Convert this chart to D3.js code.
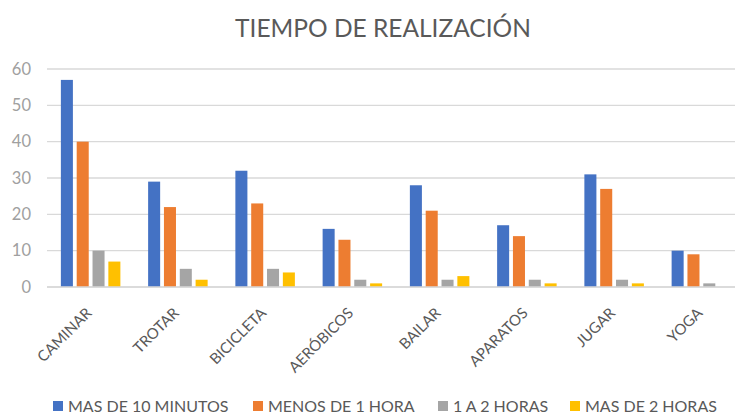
<!DOCTYPE html>
<html>
<head>
<meta charset="utf-8">
<script src="https://cdn.jsdelivr.net/npm/d3@7"></script>
<style>
  html, body { margin: 0; padding: 0; background: #fff; overflow: hidden; }
  svg { display: block; font-family: Lato, "Open Sans", sans-serif; }
</style>
</head>
<body>
<svg id="chart" width="735" height="415"></svg>
<script>
// Activities and minutes-per-session groups
const categories = ["CAMINAR", "TROTAR", "BICICLETA", "AERÓBICOS", "BAILAR", "APARATOS", "JUGAR", "YOGA"];
const seriesNames = ["MAS DE 10 MINUTOS", "MENOS DE 1 HORA", "1 A 2 HORAS", "MAS DE 2 HORAS"];
const seriesColors = ["#4472c4", "#ed7d31", "#a5a5a5", "#ffc000"];
const mas10min  = [57, 29, 32, 16, 28, 17, 31, 10];
const menos1h   = [40, 22, 23, 13, 21, 14, 27, 9];
const de1a2h    = [10, 5, 5, 2, 2, 2, 2, 1];
const mas2h     = [7, 2, 4, 1, 3, 1, 1, 0];
const yTicks = [0, 10, 20, 30, 40, 50, 60];

const seriesValues = [mas10min, menos1h, de1a2h, mas2h];

const svg = d3.select("#chart");
const width = 735, height = 415;
const plotLeft = 47, plotRight = 745;   // plot area runs slightly past the right edge

const x = d3.scaleBand().domain(categories)
  .range([plotLeft, plotRight]).paddingInner(0.318).paddingOuter(0.159);
const x1 = d3.scaleBand().domain(seriesNames).range([0, x.bandwidth()]).paddingInner(0.24);
const y = d3.scaleLinear().domain([0, 60]).range([287, 69]);

// Title
svg.append("text")
  .attr("x", 383).attr("y", 37)
  .attr("text-anchor", "middle")
  .attr("fill", "#595959")
  .attr("font-size", 24.5)
  .text("TIEMPO DE REALIZACIÓN");

// Gridlines
svg.append("g")
  .selectAll("line").data(yTicks).join("line")
  .attr("x1", plotLeft).attr("x2", width)
  .attr("y1", d => y(d)).attr("y2", d => y(d))
  .attr("stroke", "#d9d9d9").attr("stroke-width", 1.3);

// Y axis labels
const yAxis = d3.axisLeft(y).tickValues(yTicks).tickSize(0).tickPadding(0);
const gy = svg.append("g").attr("transform", "translate(31,0)").call(yAxis);
gy.select(".domain").remove();
gy.selectAll("text").attr("fill", "#a0a0a0").attr("font-size", 16.5)
  .attr("font-family", "Lato, 'Open Sans', sans-serif");

// Bars
const groups = svg.append("g").selectAll("g").data(categories).join("g")
  .attr("transform", d => `translate(${x(d)},0)`);
groups.selectAll("rect")
  .data((c, i) => seriesNames.map((s, k) => ({ s, v: seriesValues[k][i], k })))
  .join("rect")
  .attr("x", d => x1(d.s))
  .attr("width", x1.bandwidth())
  .attr("y", d => y(d.v))
  .attr("height", d => y(0) - y(d.v))
  .attr("fill", d => seriesColors[d.k]);

// X axis line and rotated labels
const xAxis = d3.axisBottom(x).tickSize(0).tickPadding(0);
const gx = svg.append("g").attr("transform", `translate(0,${y(0)})`).call(xAxis);
gx.select(".domain").remove();
gx.append("line").attr("x1", plotLeft).attr("x2", width)
  .attr("stroke", "#d9d9d9").attr("stroke-width", 1.3);
gx.selectAll(".tick text")
  .attr("fill", "#595959").attr("font-size", 15)
  .attr("font-family", "Lato, 'Open Sans', sans-serif")
  .attr("text-anchor", "end")
  .attr("dy", null).attr("y", 0)
  .attr("transform", "translate(2,27) rotate(-45)");

// Legend
const legendX = [53, 253, 438, 570];
const legend = svg.append("g").selectAll("g").data(seriesNames).join("g")
  .attr("transform", (d, i) => `translate(${legendX[i]},401)`);
legend.append("rect").attr("width", 10).attr("height", 10).attr("y", 0)
  .attr("fill", (d, i) => seriesColors[i]);
legend.append("text").attr("x", 15).attr("y", 10.5)
  .attr("fill", "#595959").attr("font-size", 16).text(d => d);
</script>
</body>
</html>
